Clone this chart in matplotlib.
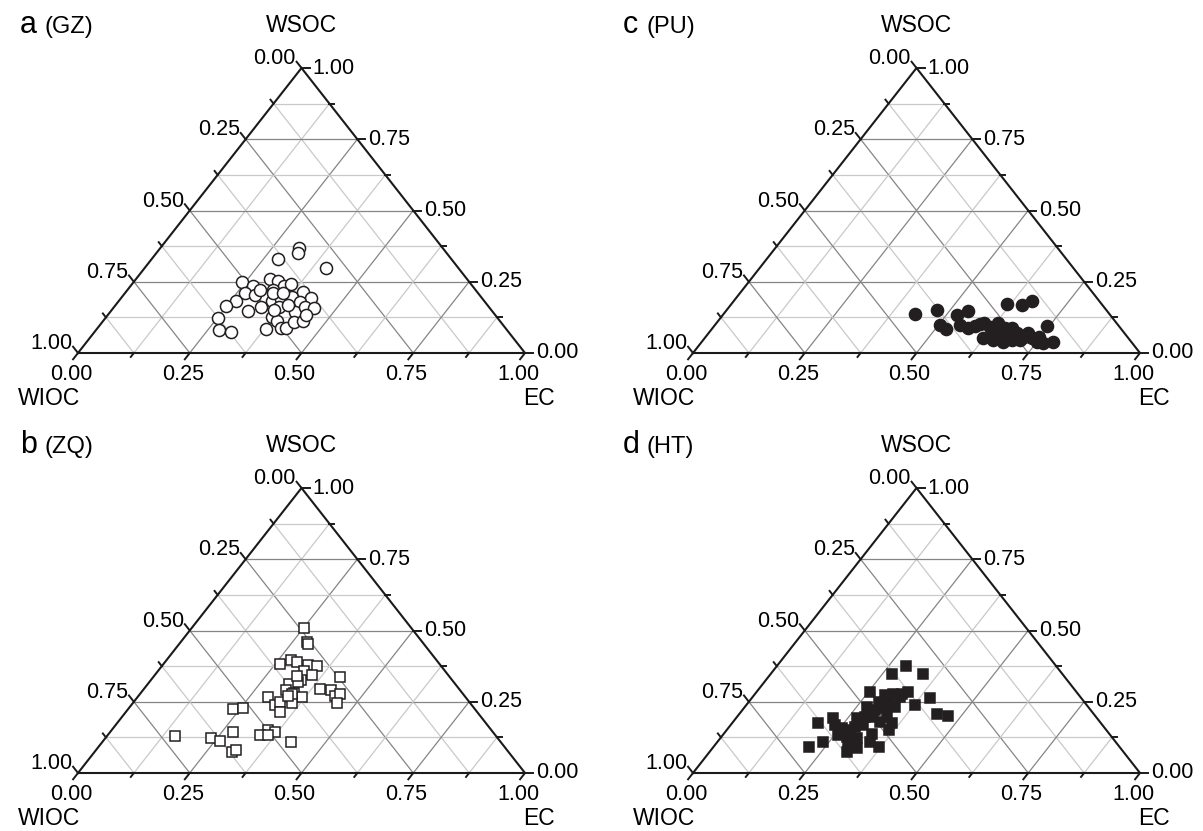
import numpy as np
import matplotlib.pyplot as plt

plt.rcParams['font.family'] = ['Liberation Sans', 'DejaVu Sans']

FIG_W, FIG_H = 1203, 831
TRI_W, TRI_H = 447, 285   # triangle size in pixels

# ternary data: EC and WSOC fractions (WIOC = 1 - EC - WSOC)
gz_ec = [0.311, 0.317, 0.283, 0.406, 0.242, 0.274, 0.301, 0.321, 0.343, 0.355,
         0.325, 0.270, 0.294, 0.262, 0.247, 0.306, 0.328, 0.344, 0.359, 0.381,
         0.396, 0.425, 0.407, 0.370, 0.413, 0.428, 0.448, 0.253, 0.277, 0.305,
         0.379, 0.370, 0.390, 0.410, 0.422, 0.429, 0.448, 0.444, 0.332, 0.354,
         0.362, 0.296, 0.386]
gz_wsoc = [0.369, 0.352, 0.329, 0.297, 0.250, 0.236, 0.259, 0.254, 0.235, 0.242,
           0.221, 0.209, 0.204, 0.182, 0.166, 0.147, 0.161, 0.182, 0.191, 0.196,
           0.214, 0.194, 0.180, 0.160, 0.144, 0.161, 0.158, 0.122, 0.079, 0.074,
           0.085, 0.127, 0.112, 0.088, 0.087, 0.109, 0.112, 0.133, 0.209, 0.209,
           0.151, 0.221, 0.168]

zq_ec = [0.152, 0.236, 0.261, 0.274, 0.235, 0.256, 0.306, 0.313, 0.252, 0.281,
         0.288, 0.261, 0.279, 0.295, 0.325, 0.346, 0.327, 0.351, 0.336, 0.316,
         0.319, 0.344, 0.366, 0.357, 0.394, 0.420, 0.417, 0.440, 0.448, 0.456,
         0.290, 0.321, 0.328, 0.344, 0.349, 0.368, 0.340, 0.359, 0.423, 0.333,
         0.341, 0.320, 0.335]
zq_wsoc = [0.130, 0.122, 0.113, 0.145, 0.224, 0.227, 0.075, 0.081, 0.508, 0.461,
           0.452, 0.381, 0.396, 0.388, 0.379, 0.376, 0.358, 0.344, 0.326, 0.311,
           0.291, 0.280, 0.268, 0.245, 0.295, 0.291, 0.338, 0.270, 0.276, 0.245,
           0.268, 0.239, 0.248, 0.215, 0.151, 0.145, 0.133, 0.133, 0.108, 0.320,
           0.276, 0.340, 0.270]

pu_ec = [0.428, 0.471, 0.525, 0.542, 0.504, 0.524, 0.548, 0.572, 0.591, 0.599,
         0.630, 0.623, 0.634, 0.654, 0.616, 0.651, 0.666, 0.670, 0.690, 0.711,
         0.732, 0.749, 0.766, 0.744, 0.786, 0.709, 0.690, 0.674, 0.649, 0.654,
         0.714, 0.584, 0.746, 0.619, 0.670]
pu_wsoc = [0.137, 0.151, 0.133, 0.148, 0.098, 0.083, 0.098, 0.087, 0.102, 0.104,
           0.106, 0.052, 0.075, 0.057, 0.172, 0.168, 0.184, 0.063, 0.069, 0.057,
           0.052, 0.040, 0.036, 0.095, 0.040, 0.046, 0.046, 0.040, 0.046, 0.088,
           0.070, 0.095, 0.056, 0.091, 0.088]

ht_ec = [0.289, 0.271, 0.340, 0.254, 0.340, 0.398, 0.293, 0.310, 0.329, 0.311,
         0.290, 0.378, 0.272, 0.297, 0.316, 0.336, 0.304, 0.334, 0.358, 0.364,
         0.270, 0.297, 0.281, 0.218, 0.234, 0.192, 0.254, 0.276, 0.258, 0.280,
         0.305, 0.332, 0.341, 0.369, 0.323, 0.307, 0.236, 0.214, 0.442, 0.471,
         0.286, 0.328, 0.295, 0.329]
ht_wsoc = [0.376, 0.347, 0.347, 0.283, 0.283, 0.264, 0.274, 0.276, 0.268, 0.253,
           0.250, 0.239, 0.233, 0.221, 0.227, 0.233, 0.198, 0.198, 0.174, 0.151,
           0.192, 0.168, 0.162, 0.192, 0.168, 0.174, 0.157, 0.151, 0.133, 0.127,
           0.122, 0.136, 0.110, 0.092, 0.087, 0.075, 0.110, 0.092, 0.206, 0.201,
           0.198, 0.180, 0.104, 0.276]

ticks = np.arange(0, 1.0001, 0.125)
DIAG = np.hypot(0.5 * TRI_W, TRI_H)


def to_xy(ec, wsoc):
    ec = np.asarray(ec)
    wsoc = np.asarray(wsoc)
    return ec + wsoc / 2, wsoc


def draw_panel(x0, ybot, letter, site, ec, wsoc, marker, face, ms, title_x):
    ax = fig.add_axes([x0 / FIG_W, 1 - ybot / FIG_H, TRI_W / FIG_W, TRI_H / FIG_H])
    ax.set_xlim(0, 1)
    ax.set_ylim(0, 1)
    ax.axis('off')
    dx, dy = 1 / TRI_W, 1 / TRI_H

    # grid
    for v in ticks[1:-1]:
        major = abs(v / 0.25 - round(v / 0.25)) < 1e-6
        c = '#858585' if major else '#c9c9c9'
        kw = dict(color=c, lw=0.9, zorder=1)
        ax.plot([v / 2, 1 - v / 2], [v, v], **kw)
        ax.plot([v, v + (1 - v) / 2], [0, 1 - v], **kw)
        ax.plot([1 - v, (1 - v) / 2], [0, 1 - v], **kw)

    # frame
    ax.plot([0, 1, 0.5, 0], [0, 0, 1, 0], color='#1a1a1a', lw=1.5,
            zorder=3, clip_on=False, solid_joinstyle='miter')

    for v in ticks:
        major = abs(v / 0.25 - round(v / 0.25)) < 1e-6
        L = 8 if major else 5
        t = L / DIAG
        kw = dict(color='#1a1a1a', lw=1.4, clip_on=False, zorder=3)
        # bottom axis (EC)
        bx, by = v, 0
        ex, ey = bx - 0.5 * t, by - t
        ax.plot([bx, ex], [by, ey], **kw)
        if major:
            ax.text(ex - 2 * dx, ey - 5 * dy, f'{v:.2f}', ha='center', va='top',
                    fontsize=15.5)
        # left axis (WIOC)
        lx, ly = 0.5 * (1 - v), 1 - v
        ex, ey = lx - 0.5 * t, ly + t
        ax.plot([lx, ex], [ly, ey], **kw)
        if major:
            ax.text(ex - 1 * dx, ey + 3 * dy, f'{v:.2f}', ha='right', va='center',
                    fontsize=15.5)
        # right axis (WSOC)
        rx, ry = 1 - v / 2, v
        ex = rx + L * dx
        ax.plot([rx, ex], [ry, ry], **kw)
        if major:
            ax.text(ex + 3 * dx, ry, f'{v:.2f}', ha='left', va='center',
                    fontsize=15.5)

    x, y = to_xy(ec, wsoc)
    ax.plot(x, y, ls='none', marker=marker, ms=ms, mfc=face, mec='#231f20',
            mew=1.1, zorder=4, clip_on=False)

    # labels
    ax.text(0.5, 1 + 36 * dy, 'WSOC', ha='center', va='baseline', fontsize=16.5)
    ax.text(-60 * dx, -52 * dy, 'WIOC', ha='left', va='baseline', fontsize=16.5)
    ax.text(1 + 30 * dx, -52 * dy, 'EC', ha='right', va='baseline', fontsize=16.5)
    fig.text(title_x / FIG_W, 1 - (ybot - 320) / FIG_H, letter,
             ha='left', va='baseline', fontsize=22)
    fig.text((title_x + 24) / FIG_W, 1 - (ybot - 320) / FIG_H, site,
             ha='left', va='baseline', fontsize=17)


fig = plt.figure(figsize=(FIG_W / 100, FIG_H / 100), dpi=100)
draw_panel(78, 353, 'a', '(GZ)', gz_ec, gz_wsoc, 'o', 'white', 8.7, 20)
draw_panel(78, 773, 'b', '(ZQ)', zq_ec, zq_wsoc, 's', 'white', 7.5, 20)
draw_panel(693, 353, 'c', '(PU)', pu_ec, pu_wsoc, 'o', '#231f20', 8.7, 623)
draw_panel(693, 773, 'd', '(HT)', ht_ec, ht_wsoc, 's', '#231f20', 7.5, 623)
fig.savefig('out.png', dpi=100)
